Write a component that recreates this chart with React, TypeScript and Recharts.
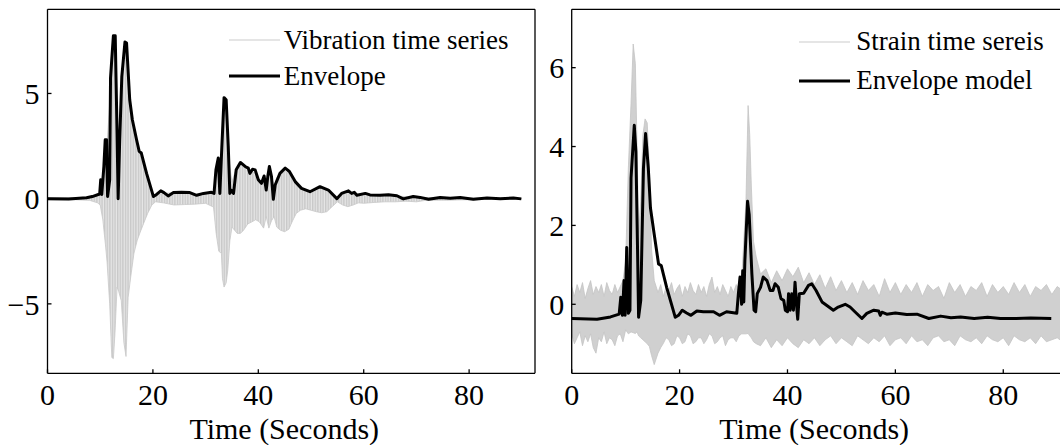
import { ComposedChart, Area, Line, XAxis, YAxis, Legend, Label } from "recharts";

// left panel: vibration
const envTimeL = [0, 4, 7.4, 8.5, 9.9, 10.1, 10.3, 10.7, 10.95, 11.2, 11.4, 11.8, 11.96, 12.5, 12.85, 13.2, 13.4, 13.7, 14.1, 14.7, 15.0, 15.6, 16.1, 16.9, 17.4, 17.8, 18.8, 20.1, 20.7, 21.5, 22.1, 22.9, 23.9, 25.4, 27.0, 28.3, 29.6, 31.1, 31.6, 31.96, 32.4, 32.7, 33.0, 33.5, 33.9, 34.3, 34.6, 34.9, 35.3, 35.8, 36.6, 37.5, 38.1, 38.4, 38.9, 39.4, 40.0, 40.6, 41.1, 41.5, 41.8, 42.1, 42.5, 42.85, 43.2, 44.1, 45.1, 45.9, 47.0, 48.2, 49.8, 51.7, 53.3, 54.9, 55.8, 57.1, 57.7, 58.2, 58.7, 60.3, 61.2, 63.1, 64.7, 66.3, 67.5, 69.4, 70.7, 72.3, 74.5, 76.4, 78.3, 80.8, 83.4, 85.9, 88.4, 89.9];
const envValL = [0, -0.02, 0.04, 0.1, 0.22, 0.9, 0.2, 1.55, 2.8, 2.8, 0.1, 0.9, 5.75, 7.74, 7.74, 3.1, 0.0, 2.8, 5.8, 7.45, 7.4, 4.7, 3.75, 2.8, 2.25, 2.17, 1.2, 0.1, 0.2, 0.37, 0.29, 0.13, 0.29, 0.3, 0.29, 0.16, 0.25, 0.3, 0.25, 1.37, 1.93, 0.25, 2.0, 4.8, 4.7, 2.48, 0.25, 0.4, 0.25, 1.37, 1.72, 1.53, 1.45, 1.2, 1.4, 1.37, 0.9, 0.73, 1.08, 0.41, 1.05, 1.53, 1.05, -0.03, 0.65, 1.2, 1.45, 1.29, 0.81, 0.49, 0.33, 0.57, 0.41, 0.0, 0.25, 0.37, 0.25, 0.3, 0.16, 0.25, 0.18, 0.16, 0.19, 0.14, -0.01, 0.1, 0.06, -0.03, 0.06, 0.02, 0.05, -0.03, 0.03, 0.0, 0.03, -0.01];

const vibTime = [0, 5, 8, 9.5, 10, 10.5, 11, 11.3, 11.8, 12.2, 12.5, 12.8, 13.2, 13.5, 14, 14.5, 14.9, 15.3, 15.8, 16.4, 17, 17.5, 18.2, 19, 19.8, 20.5, 22, 24, 26, 28, 30, 31.5, 32, 32.5, 33, 33.2, 33.5, 33.9, 34.2, 34.6, 35, 35.5, 36, 36.6, 37.2, 38, 38.8, 39.5, 40.2, 41, 41.5, 42, 42.5, 43, 43.5, 44.2, 45, 45.8, 46.5, 47.2, 48, 49, 50, 51, 52, 53, 54, 55, 56, 57, 58, 59, 60, 62, 64, 66, 68, 70, 72, 76, 80, 85, 90];
const vibHigh = [0.05, 0.05, 0.08, 0.15, 0.3, 1.2, 2.5, 2.6, 4.5, 7.2, 7.6, 7.3, 3.0, 2.5, 5.5, 7.2, 7.3, 5.5, 4.4, 3.4, 2.6, 2.1, 1.6, 1.0, 0.3, 0.15, 0.25, 0.28, 0.28, 0.2, 0.25, 0.3, 1.3, 1.8, 2.0, 3.5, 4.6, 4.5, 2.5, 1.5, 0.8, 1.2, 1.5, 1.6, 1.5, 1.4, 1.3, 1.2, 0.8, 0.9, 0.5, 1.3, 1.0, 0.6, 1.0, 1.1, 1.3, 1.2, 0.9, 0.7, 0.45, 0.35, 0.35, 0.5, 0.5, 0.4, 0.2, 0.05, 0.2, 0.3, 0.2, 0.15, 0.2, 0.15, 0.15, 0.12, 0.1, 0.08, 0.05, 0.05, 0.03, 0.03, 0.02];
const vibLow = [-0.05, -0.05, -0.08, -0.2, -0.3, -1.0, -2.2, -3.0, -5.0, -7.55, -7.6, -6.4, -4.2, -4.4, -4.85, -6.85, -7.5, -4.7, -3.7, -2.6, -2.0, -1.65, -1.2, -0.7, -0.3, -0.15, -0.2, -0.3, -0.28, -0.26, -0.22, -0.4, -1.65, -2.5, -2.6, -3.8, -4.2, -4.0, -3.4, -2.0, -1.35, -1.5, -1.65, -1.65, -1.5, -1.2, -1.1, -1.0, -1.1, -1.4, -0.85, -1.4, -1.05, -0.85, -1.35, -1.5, -1.57, -1.45, -1.05, -0.7, -0.55, -0.48, -0.55, -0.62, -0.67, -0.62, -0.38, -0.15, -0.3, -0.38, -0.3, -0.2, -0.22, -0.18, -0.15, -0.15, -0.12, -0.15, -0.07, -0.07, -0.05, -0.03, -0.02];

// right panel: strain
const envTimeR = [0, 4.7, 7.2, 8.8, 9.1, 9.4, 9.7, 9.9, 10.2, 10.5, 10.8, 11.0, 11.6, 11.9, 12.2, 12.4, 12.8, 13.3, 13.7, 14.2, 14.6, 15.3, 16.1, 16.6, 17.6, 19.2, 19.8, 20.5, 21.3, 22.1, 23.2, 24.4, 26.3, 27.4, 28.7, 30.6, 30.9, 31.2, 31.5, 31.7, 31.9, 32.1, 32.6, 32.9, 33.4, 33.8, 34.1, 34.4, 35.0, 35.5, 36.2, 36.8, 37.3, 37.7, 38.3, 38.8, 39.3, 39.6, 40.0, 40.2, 40.5, 40.8, 41.1, 41.4, 41.8, 41.9, 42.2, 43.0, 43.9, 44.5, 45.3, 46.4, 47.3, 48.5, 49.4, 50.7, 51.6, 52.5, 53.8, 54.7, 56.0, 56.9, 57.2, 57.5, 58.4, 60.0, 62.1, 64.0, 66.2, 68.4, 70.3, 72.1, 74.6, 77.1, 79.5, 82.0, 85.1, 88.9];
const envValR = [-0.36, -0.38, -0.32, -0.25, 0.18, -0.28, 0.6, -0.28, 1.44, -0.23, -0.15, 3.2, 4.54, 3.87, 1.44, -0.33, 0.1, 3.45, 4.33, 3.45, 2.44, 1.77, 1.02, 0.98, 0.43, -0.33, -0.28, -0.15, -0.22, -0.28, -0.17, -0.19, -0.19, -0.28, -0.19, -0.23, 0.27, 0.69, 0.0, 0.85, 0.06, 1.1, 2.61, 2.28, 0.77, -0.15, -0.19, 0.27, 0.43, 0.69, 0.6, 0.35, 0.35, 0.52, 0.43, 0.14, 0.1, -0.15, -0.19, 0.27, -0.15, 0.27, -0.15, 0.56, -0.23, -0.38, 0.27, 0.28, 0.48, 0.52, 0.35, 0.06, -0.03, -0.15, -0.07, 0.0, -0.07, -0.19, -0.36, -0.23, -0.15, -0.17, -0.28, -0.2, -0.25, -0.22, -0.26, -0.25, -0.36, -0.3, -0.34, -0.32, -0.36, -0.33, -0.36, -0.36, -0.35, -0.36];

const strainTime = [
  0, 0.5, 1, 1.5, 2, 2.5, 3, 3.5, 4, 4.5, 5, 5.5, 6, 6.5, 7, 7.5, 8, 8.5, 9, 9.5,
  10, 10.5, 11, 11.4, 11.8, 12.1, 12.4, 12.8, 13.2, 13.6, 14, 14.4, 14.8, 15.3,
  16, 16.5, 17, 17.5, 18, 18.5, 19, 19.5, 20, 20.5, 21, 21.5, 22, 22.5, 23, 23.5, 24, 24.5, 25, 25.5, 26, 26.5, 27, 27.5, 28, 28.5, 29, 29.5, 30, 30.5, 31, 31.5,
  32.3, 32.7, 33.0, 33.3, 33.7, 34.2,
  35, 36, 37, 38, 39, 40, 41, 42, 43, 44, 45, 46, 47, 48, 49, 50, 51, 52, 53, 54, 55, 56, 57, 58, 59, 60, 61, 62, 63, 64, 65, 66, 67, 68, 69, 70, 71, 72, 73, 74, 75, 76, 77, 78, 79, 80, 81, 82, 83, 84, 85, 86, 87, 88, 89, 90, 91,
];
const strainHigh = [
  0.45, 0.2, 0.5, 0.3, 0.55, 0.15, 0.4, 0.6, 0.25, 0.45, 0.3, 0.5, 0.2, 0.55, 0.35, 0.25, 0.5, 0.3, 0.45, 0.6,
  1.1, 3.45, 5.1, 6.6, 6.1, 4.1, 1.8, 2.6, 4.3, 4.7, 4.6, 3.45, 1.4, 0.6,
  0.3, 0.5, 0.2, 0.45, 0.35, 0.55, 0.25, 0.4, 0.5, 0.2, 0.45, 0.3, 0.55, 0.35, 0.25, 0.5, 0.3, 0.45, 0.2, 0.5, 0.69, 0.3, 0.45, 0.25, 0.5, 0.35, 0.2, 0.45, 0.3, 0.5, 0.4, 0.6,
  2.6, 5.04, 4.3, 3.0, 1.6, 1.2,
  0.77, 0.9, 0.55, 0.85, 0.6, 0.9, 0.7, 0.94, 0.55, 0.8, 0.5, 0.75, 0.4, 0.7, 0.35, 0.6, 0.3, 0.55, 0.25, 0.6, 0.35, 0.5, 0.2, 0.65, 0.3, 0.55, 0.25, 0.5, 0.3, 0.55, 0.2, 0.5, 0.35, 0.45, 0.15, 0.55, 0.3, 0.5, 0.2, 0.45, 0.35, 0.55, 0.2, 0.5, 0.3, 0.45, 0.25, 0.55, 0.3, 0.5, 0.2, 0.45, 0.35, 0.5, 0.25, 0.45, 0.35,
];
const strainLow = [
  -0.75, -1.0, -0.85, -0.7, -1.05, -0.8, -0.95, -0.75, -1.1, -1.24, -0.85, -0.95, -0.7, -1.0, -0.85, -0.9, -1.05, -0.8, -0.75, -0.95,
  -0.65, -0.75, -0.7, -0.72, -0.74, -0.7, -0.8, -0.85, -0.9, -0.95, -1.0, -1.07, -1.3, -1.53,
  -1.24, -1.1, -0.99, -0.85, -0.9, -1.05, -1.0, -0.8, -0.85, -1.0, -0.95, -0.75, -0.8, -1.0, -0.95, -0.85, -0.85, -1.0, -0.9, -0.75, -0.8, -1.0, -0.95, -0.85, -0.8, -1.05, -0.9, -0.85, -0.85, -0.95, -0.8, -0.75,
  -0.75, -0.74, -0.8, -0.85, -0.95, -1.0,
  -1.05, -0.85, -1.1, -0.9, -1.05, -0.85, -1.0, -1.1, -0.9, -1.0, -0.85, -1.05, -0.9, -0.8, -1.0, -0.85, -0.95, -1.05, -0.8, -0.9, -1.0, -0.85, -0.95, -0.8, -1.05, -0.9, -0.85, -1.0, -0.8, -0.95, -0.9, -1.05, -0.85, -0.8, -0.95, -0.9, -1.05, -0.8, -0.9, -0.95, -0.85, -1.0, -0.8, -0.9, -0.95, -0.85, -1.05, -0.8, -0.9, -0.95, -0.85, -1.0, -0.8, -0.95, -0.9, -0.85, -0.95,
];

const xTicks = [0, 20, 40, 60, 80];
const yTicksL = [-5, 0, 5];
const yTicksR = [0, 2, 4, 6];

const FONT = '"Liberation Serif", "Times New Roman", serif';
const GREY = "#cccccc";

const envL = envTimeL.map((t, i) => ({ t, v: envValL[i] }));
const vib = vibTime.map((t, i) => ({ t, r: [vibLow[i], vibHigh[i]] }));
const envR = envTimeR.map((t, i) => ({ t, v: envValR[i] }));
const strain = strainTime.map((t, i) => ({ t, r: [strainLow[i], strainHigh[i]] }));

const fmt = (v: number) => String(v).replace("-", "\u2212");
const tickStyle = { fontFamily: FONT, fontSize: 30, fill: "#000" };
const lineStyle = { stroke: "#000", strokeWidth: 1.3 };

function makeLegend(items: { name: string; color: string; width: number }[], rowH: number, gap: number) {
  return () => (
    <div style={{ fontFamily: FONT, fontSize: 27, color: "#000" }}>
      {items.map((it) => (
        <div key={it.name} style={{ display: "flex", alignItems: "center", height: rowH, whiteSpace: "nowrap" }}>
          <svg width={51} height={6} style={{ marginRight: gap }}>
            <line x1={0} x2={51} y1={3} y2={3} stroke={it.color} strokeWidth={it.width} />
          </svg>
          <span>{it.name}</span>
        </div>
      ))}
    </div>
  );
}

function Panel(props: {
  left: number;
  width: number;
  yAxisW: number;
  rightPad: number;
  xMax: number;
  yDomain: [number, number];
  yTicks: number[];
  band: { t: number; r: number[] }[];
  env: { t: number; v: number }[];
  legend: () => JSX.Element;
  legendPos: { left: number; top: number };
  labelDx: number;
  tickGap: number;
  pattern?: boolean;
}) {
  return (
    <div style={{ position: "absolute", left: props.left, top: 0 }}>
      <ComposedChart width={props.width} height={445} margin={{ top: 8.3, right: props.rightPad, bottom: 0, left: 0 }}>
        <defs>
          <pattern id="hatch" width={2.6} height={10} patternUnits="userSpaceOnUse">
            <rect x={0} y={0} width={1.6} height={10} fill="#c8c8c8" />
            <rect x={1.6} y={0} width={1} height={10} fill="#e6e6e6" />
          </pattern>
        </defs>
        <XAxis
          xAxisId="b"
          dataKey="t"
          type="number"
          domain={[0, props.xMax]}
          ticks={xTicks}
          allowDataOverflow
          height={71.7}
          tickSize={-4}
          tickMargin={14.4}
          tick={tickStyle}
          axisLine={lineStyle}
          tickLine={lineStyle}
        >
          <Label
            value="Time (Seconds)"
            position="insideBottom"
            offset={6}
            dx={props.labelDx}
            style={{ fontFamily: FONT, fontSize: 30, fill: "#000" }}
          />
        </XAxis>
        <XAxis
          xAxisId="t"
          orientation="top"
          dataKey="t"
          type="number"
          domain={[0, props.xMax]}
          ticks={xTicks}
          allowDataOverflow
          height={1}
          tickSize={-4}
          tick={false}
          axisLine={lineStyle}
          tickLine={lineStyle}
        />
        <YAxis
          yAxisId="l"
          type="number"
          domain={props.yDomain}
          ticks={props.yTicks}
          allowDataOverflow
          width={props.yAxisW}
          tickSize={-4}
          tickMargin={props.tickGap}
          tickFormatter={fmt}
          tick={tickStyle}
          axisLine={lineStyle}
          tickLine={lineStyle}
        />
        <YAxis
          yAxisId="r"
          orientation="right"
          type="number"
          domain={props.yDomain}
          ticks={props.yTicks}
          allowDataOverflow
          width={10}
          tickSize={-4}
          tick={false}
          axisLine={lineStyle}
          tickLine={lineStyle}
        />
        <Area
          xAxisId="b"
          yAxisId="l"
          data={props.band}
          dataKey="r"
          type="linear"
          stroke={props.pattern ? "#c8c8c8" : "#c4c4c4"}
          strokeWidth={0.8}
          fill={props.pattern ? "url(#hatch)" : "#d0d0d0"}
          fillOpacity={1}
          isAnimationActive={false}
          legendType="none"
        />
        <Line
          xAxisId="b"
          yAxisId="l"
          data={props.env}
          dataKey="v"
          type="linear"
          stroke="#000"
          strokeWidth={3}
          strokeLinejoin="round"
          dot={false}
          activeDot={false}
          isAnimationActive={false}
        />
        <Legend
          content={props.legend}
          layout="horizontal"
          verticalAlign="middle"
          align="center"
          wrapperStyle={{ left: props.legendPos.left, top: props.legendPos.top, width: "auto", bottom: "auto" }}
        />
      </ComposedChart>
    </div>
  );
}

export default function App() {
  const legendL = makeLegend(
    [
      { name: "Vibration time series", color: GREY, width: 1.2 },
      { name: "Envelope", color: "#000", width: 3 },
    ],
    36,
    4
  );
  const legendR = makeLegend(
    [
      { name: "Strain time sereis", color: GREY, width: 1.2 },
      { name: "Envelope model", color: "#000", width: 3 },
    ],
    39,
    6
  );
  return (
    <div style={{ position: "fixed", left: 0, top: 0, width: 1060, height: 445, overflow: "hidden", background: "#fff" }}>
      <Panel
        left={0}
        width={545}
        yAxisW={47.5}
        rightPad={0}
        xMax={92.5}
        yDomain={[-8.3, 9.0]}
        yTicks={yTicksL}
        band={vib}
        env={envL}
        legend={legendL}
        legendPos={{ left: 228.7, top: 22 }}
        labelDx={-7}
        tickGap={12}
        pattern
      />
      <Panel
        left={530}
        width={560}
        yAxisW={41.7}
        rightPad={9.3}
        xMax={92.5}
        yDomain={[-1.75, 7.48]}
        yTicks={yTicksR}
        band={strain}
        env={envR}
        legend={legendR}
        legendPos={{ left: 269.3, top: 22 }}
        labelDx={-7}
        tickGap={11.5}
      />
    </div>
  );
}
